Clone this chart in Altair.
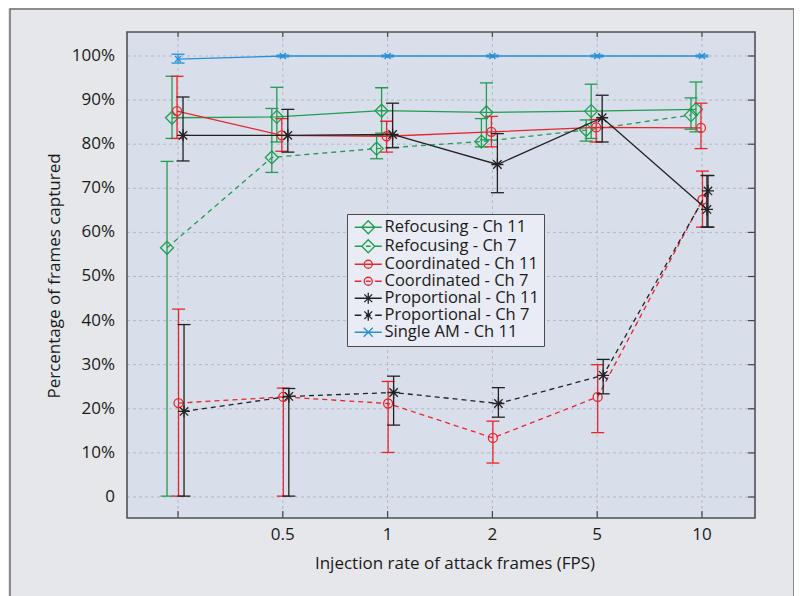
import altair as alt
import pandas as pd

# ---------------- data ----------------
rates = ["0", "0.5", "1", "2", "5", "10"]
tick_labels = ["", "0.5", "1", "2", "5", "10"]
y_ticks = [0, 10, 20, 30, 40, 50, 60, 70, 80, 90, 100]
y_tick_labels = ["0", "10%", "20%", "30%", "40%", "50%", "60%", "70%", "80%", "90%", "100%"]
x_title = "Injection rate of attack frames (FPS)"
y_title = "Percentage of frames captured"

series = ["Refocusing - Ch 11", "Refocusing - Ch 7", "Coordinated - Ch 11",
          "Coordinated - Ch 7", "Proportional - Ch 11", "Proportional - Ch 7",
          "Single AM - Ch 11"]

ref11_mean = [86.0, 86.2, 87.6, 87.2, 87.5, 87.9]
ref11_lo = [81.3, 80.5, 82.5, 81.0, 81.3, 82.8]
ref11_hi = [95.4, 92.9, 92.8, 93.9, 93.6, 94.1]

ref7_mean = [56.5, 77.0, 79.0, 80.6, 83.2, 86.6]
ref7_lo = [0.2, 73.6, 76.7, 79.4, 80.7, 83.4]
ref7_hi = [76.1, 88.1, 82.0, 85.8, 85.5, 90.5]

coord11_mean = [87.5, 82.0, 81.8, 82.8, 83.8, 83.7]
coord11_lo = [81.3, 78.4, 78.2, 79.4, 80.5, 79.0]
coord11_hi = [95.4, 85.8, 85.2, 86.3, 85.6, 89.3]

coord7_mean = [21.3, 22.7, 21.2, 13.4, 22.7, 67.4]
coord7_lo = [0.2, 0.2, 10.1, 7.7, 14.6, 61.2]
coord7_hi = [42.6, 24.7, 26.2, 17.2, 30.0, 73.9]

prop11_mean = [82.0, 82.0, 82.2, 75.4, 86.0, 65.2]
prop11_lo = [76.2, 78.2, 79.2, 69.0, 80.5, 61.2]
prop11_hi = [90.7, 87.9, 89.3, 82.4, 91.1, 72.9]

prop7_mean = [19.4, 22.8, 23.7, 21.2, 27.6, 69.4]
prop7_lo = [0.2, 0.2, 16.3, 18.1, 23.4, 61.2]
prop7_hi = [39.1, 24.6, 27.4, 24.8, 31.2, 72.9]

single_mean = [99.3, 100.0, 100.0, 100.0, 100.0, 100.0]
single_lo = [98.4, 99.8, 99.8, 99.8, 99.8, 99.8]
single_hi = [100.4, 100.2, 100.2, 100.2, 100.2, 100.2]

values = {
    series[0]: (ref11_mean, ref11_lo, ref11_hi),
    series[1]: (ref7_mean, ref7_lo, ref7_hi),
    series[2]: (coord11_mean, coord11_lo, coord11_hi),
    series[3]: (coord7_mean, coord7_lo, coord7_hi),
    series[4]: (prop11_mean, prop11_lo, prop11_hi),
    series[5]: (prop7_mean, prop7_lo, prop7_hi),
    series[6]: (single_mean, single_lo, single_hi),
}

# ---------------- styles ----------------
GREEN, RED, BLACK, BLUE = "#1f9e4f", "#e8262b", "#222222", "#2590d8"
colors = [GREEN, GREEN, RED, RED, BLACK, BLACK, BLUE]
dashed = [False, True, False, True, False, True, False]
dodge_px = [-6, -11, -1, 0.5, 5, 6, 0]

ASTER = "M-1,0L1,0M0,-1L0,1M-0.7,-0.7L0.7,0.7M-0.7,0.7L0.7,-0.7"
XMARK = "M-1,-1L1,1M-1,1L1,-1"
markers = [("diamond", 169), ("diamond", 169), ("circle", 81), ("circle", 81),
           (ASTER, 144), (ASTER, 144), (XMARK, 36)]

SOLID_LINE = "M-2.25,0L2.25,0"
DASH_LINE = "M-2.25,0L-1.15,0M-0.4,0L0.4,0M1.15,0L2.25,0"
L_DIAMOND = "M-1.08,0L0,-1.08L1.08,0L0,1.08Z"
L_CIRCLE = "M-0.67,0A0.67,0.67 0 1,0 0.67,0A0.67,0.67 0 1,0 -0.67,0Z"
L_ASTER = "M0,-0.92L0,0.92M-0.65,-0.65L0.65,0.65M-0.65,0.65L0.65,-0.65"
L_X = "M-0.75,-0.75L0.75,0.75M-0.75,0.75L0.75,-0.75"
legend_paths = [SOLID_LINE + L_DIAMOND, DASH_LINE + L_DIAMOND,
                SOLID_LINE + L_CIRCLE, DASH_LINE + L_CIRCLE,
                SOLID_LINE + L_ASTER, DASH_LINE + L_ASTER,
                SOLID_LINE + L_X]

FONT = "Open Sans"
TXT = "#1a1a1a"
GRID = "#b4b8c4"
W, H = 628, 486
PX_PER_IDX = 104.8
xscale = alt.Scale(domain=[-0.487, 5.506], nice=False, zero=False)
yscale = alt.Scale(domain=[-4.76, 105.44], nice=False, zero=False)

xt = pd.DataFrame({"idx": list(range(len(rates))), "label": tick_labels})
yt = pd.DataFrame({"v": y_ticks, "label": y_tick_labels})
one = pd.DataFrame({"a": [0]})

# outer frame of the figure
border = alt.Chart(one).mark_rect(
    fill="#ffffff", fillOpacity=0, stroke="#6e6e6e", strokeWidth=1.5
).encode(x=alt.value(-117), x2=alt.value(667), y=alt.value(-23), y2=alt.value(620))

# plot-area background and dotted grid
plot_bg = alt.Chart(one).mark_rect(color="#d9deeb").encode(
    x=alt.value(0), x2=alt.value(W), y=alt.value(0), y2=alt.value(H))
xgrid = alt.Chart(xt).mark_rule(color=GRID, strokeWidth=1, strokeDash=[3, 3]).encode(
    x=alt.X("idx:Q", scale=xscale, axis=None), y=alt.value(0), y2=alt.value(H))
ygrid = alt.Chart(yt).mark_rule(color=GRID, strokeWidth=1, strokeDash=[3, 3]).encode(
    y=alt.Y("v:Q", scale=yscale, axis=None), x=alt.value(0), x2=alt.value(W))

# inward ticks
bottom_ticks = alt.Chart(xt).mark_rule(color="#444", strokeWidth=1.2).encode(
    x=alt.X("idx:Q", scale=xscale, axis=None), y=alt.value(H), y2=alt.value(H - 7))
top_ticks = alt.Chart(xt).mark_rule(color="#444", strokeWidth=1.2).encode(
    x=alt.X("idx:Q", scale=xscale, axis=None), y=alt.value(0), y2=alt.value(5))
right_ticks = alt.Chart(yt).mark_rule(color="#444", strokeWidth=1.2).encode(
    y=alt.Y("v:Q", scale=yscale, axis=None), x=alt.value(W), x2=alt.value(W - 7))

# tick labels and axis titles
xlabels = alt.Chart(xt).mark_text(font=FONT, fontSize=17, color=TXT, baseline="middle",
                                  align="center").encode(
    x=alt.X("idx:Q", scale=xscale, axis=None), y=alt.value(H + 17), text="label:N")
ylabels = alt.Chart(yt).mark_text(font=FONT, fontSize=17, color=TXT, baseline="middle",
                                  align="right").encode(
    y=alt.Y("v:Q", scale=yscale, axis=None), x=alt.value(-12), text="label:N")
xtitle = alt.Chart(one).mark_text(text=x_title, font=FONT, fontSize=17, color=TXT,
                                  baseline="middle", align="center").encode(
    x=alt.value(328), y=alt.value(H + 46))
ytitle = alt.Chart(one).mark_text(text=y_title, font=FONT, fontSize=17, color=TXT,
                                  baseline="middle", align="center", angle=270).encode(
    x=alt.value(-72), y=alt.value(H / 2 + 1))

layers = [border, plot_bg, xgrid, ygrid, bottom_ticks, top_ticks, right_ticks,
          xlabels, ylabels, xtitle, ytitle]

# ---------------- series ----------------
for i, name in enumerate(series):
    m, lo, hi = values[name]
    c = colors[i]
    df = pd.DataFrame({
        "x": [k + dodge_px[i] / PX_PER_IDX for k in range(len(rates))],
        "rate": rates, "m": m, "lo": lo, "hi": hi,
    })
    X = alt.X("x:Q", scale=xscale, axis=None)
    line_kw = dict(color=c, strokeWidth=1.3)
    if dashed[i]:
        line_kw["strokeDash"] = [5, 4]
    base = alt.Chart(df)
    layers.append(base.mark_line(**line_kw).encode(
        x=X, y=alt.Y("m:Q", scale=yscale, axis=None)))
    layers.append(base.mark_rule(color=c, strokeWidth=1.3).encode(
        x=X, y=alt.Y("lo:Q", scale=yscale, axis=None), y2="hi:Q"))
    for col in ("lo", "hi"):
        layers.append(base.mark_tick(orient="horizontal", size=13, thickness=1.3,
                                     color=c, opacity=1).encode(
            x=X, y=alt.Y(col + ":Q", scale=yscale, axis=None)))
    shp, sz = markers[i]
    layers.append(base.mark_point(shape=shp, size=sz, filled=False, color=c,
                                  strokeWidth=1.3, opacity=1).encode(
        x=X, y=alt.Y("m:Q", scale=yscale, axis=None)))

# plot frame on top of the data
frame = alt.Chart(one).mark_rect(
    fill="#ffffff", fillOpacity=0, stroke="#505050", strokeWidth=1.6
).encode(x=alt.value(0), x2=alt.value(W), y=alt.value(0), y2=alt.value(H))
layers.append(frame)

# ---------------- legend ----------------
leg = alt.Legend(
    title=None, orient="none", legendX=220, legendY=182,
    fillColor="#e9ecf4", strokeColor="#4a4a4a", padding=5,
    labelFont=FONT, labelFontSize=16.5, labelColor=TXT,
    symbolSize=144, symbolStrokeWidth=1.3, symbolOffset=8, labelOffset=8,
    rowPadding=0, symbolFillColor="transparent",
)
legend_layer = alt.Chart(pd.DataFrame({"series": series})).transform_filter(
    "false").mark_point(filled=False, opacity=1, strokeWidth=1.3).encode(
    shape=alt.Shape("series:N", scale=alt.Scale(domain=series, range=legend_paths), legend=leg),
    color=alt.Color("series:N", scale=alt.Scale(domain=series, range=colors), legend=leg),
)
layers.append(legend_layer)

chart = alt.layer(*layers).properties(
    width=W, height=H,
    padding={"left": 119, "top": 24, "right": 39, "bottom": 78},
    autosize=alt.AutoSizeParams(type="none"),
    background="#e6e7ea",
).configure_view(strokeWidth=0)

chart.save("out.html", embed_options={"renderer": "svg", "actions": False})
